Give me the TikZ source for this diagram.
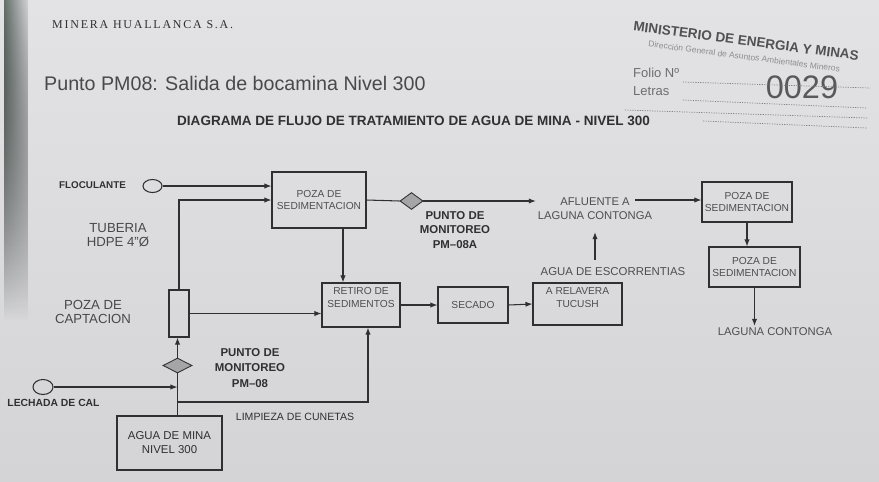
\documentclass[tikz,border=0pt]{standalone}
\usepackage{fontspec}
\setmainfont{Liberation Sans}
\newfontfamily\serifstamp{Liberation Serif}
\usetikzlibrary{positioning,shapes.geometric,arrows.meta,fadings}
\definecolor{paper}{RGB}{212,212,215}
\definecolor{paperlt}{RGB}{227,227,229}
\definecolor{ink}{RGB}{48,48,50}
\definecolor{boxink}{RGB}{78,78,80}
\definecolor{shadowgr}{RGB}{100,112,106}
\definecolor{diafill}{RGB}{165,165,168}
\definecolor{faint}{RGB}{110,110,112}
\tikzfading[name=fade down, top color=transparent!0, bottom color=transparent!100]
\tikzset{
  box/.style={draw=ink, line width=0.6pt, inner sep=1pt, text=boxink, align=center,
    font=\fontsize{5.8}{7}\selectfont},
  lbl/.style={text=ink, align=center, inner sep=1pt},
  arr/.style={draw=ink, line width=0.6pt, -{Latex[length=4pt,width=3pt]}},
  pipe/.style={draw=ink, line width=0.6pt},
  tank/.style={draw=ink, line width=0.6pt, ellipse, inner sep=0pt},
  monit/.style={draw=ink, line width=0.5pt, diamond, fill=diafill, inner sep=0pt},
  dotline/.style={draw=faint!80!paper, line width=0.4pt, dash pattern=on 0.7pt off 0.7pt}
}
\begin{document}
\begin{tikzpicture}[x=0.02cm,y=-0.02cm]
% hoja
\fill[top color=paperlt, bottom color=paper] (0,0) rectangle (879,481);
\fill[left color=shadowgr, right color=paper, path fading=fade down] (4,0) rectangle (28,320);
\useasboundingbox (0,0) rectangle (879,481);

% encabezado
\node[anchor=west, text=ink, font=\serifstamp\fontsize{6.8}{8}\selectfont\addfontfeature{LetterSpace=15}] (minera) at (46,25) {MINERA HUALLANCA S.A.};
\node[anchor=west, text=ink!85!paper, font=\fontsize{11.2}{13}\selectfont] (punto) at (38,83) {Punto PM08: Salida de bocamina Nivel 300};
\node[anchor=west, text=ink, font=\bfseries\fontsize{7.7}{9}\selectfont] (titulo) at (171,121) {DIAGRAMA DE FLUJO DE TRATAMIENTO DE AGUA DE MINA - NIVEL 300};

% sello
\node[anchor=north west, rotate=-7.5, inner sep=0pt, align=center, text=ink!80!paper, font=\bfseries\fontsize{7.7}{9}\selectfont] (minem) at (634,21)
  {MINISTERIO DE ENERGIA Y MINAS\\[-1pt]{\mdseries\color{faint!70!paper}\fontsize{4.8}{6}\selectfont Dirección General de Asuntos Ambientales Mineros}};
\node[anchor=west, text=faint, font=\fontsize{7.4}{9}\selectfont] (folio) at (627,73) {Folio Nº};
\node[anchor=west, text=faint, font=\fontsize{7.4}{9}\selectfont] (letras) at (627,91) {Letras};
\node[text=ink!75!paper, font=\fontsize{18.5}{22}\selectfont] (nfolio) at (802,87) {0029};
\draw[dotline] (683,82) -- (870,88);
\draw[dotline] (683,100) -- (867,108);
\draw[dotline] (625,110) -- (867,118);
\draw[dotline] (703,121) -- (867,128);

% equipos
\node[box, minimum width=1.88cm, minimum height=1.12cm] (poza1) at (319,200) {POZA DE\\SEDIMENTACION};
\node[box, minimum width=1.56cm, minimum height=0.88cm] (retiro) at (361,305) {};
\node[box, anchor=north, draw=none] (retiroT) at ([yshift=-0.06cm]retiro.north) {RETIRO DE\\SEDIMENTOS};
\node[box, minimum width=1.4cm, minimum height=0.72cm] (secado) at (473,305) {SECADO};
\node[box, minimum width=1.78cm, minimum height=0.84cm] (relav) at (577.5,304) {};
\node[box, anchor=north, draw=none] (relavT) at ([yshift=-0.06cm]relav.north) {A RELAVERA\\TUCUSH};
\node[box, minimum width=1.8cm, minimum height=0.8cm] (poza2) at (747,202) {POZA DE\\SEDIMENTACION};
\node[box, minimum width=1.82cm, minimum height=0.8cm] (poza3) at (754.5,267) {POZA DE\\SEDIMENTACION};
\node[box, text=ink, minimum width=2.1cm, minimum height=1.08cm, font=\fontsize{6.5}{8}\selectfont] (agua) at (169.5,443) {AGUA DE MINA\\NIVEL 300};
\node[box, minimum width=0.4cm, minimum height=0.94cm] (capt) at (179,313.5) {};

\node[tank, minimum width=0.38cm, minimum height=0.26cm] (floc) at (152.5,186) {};
\node[tank, minimum width=0.4cm, minimum height=0.3cm] (lech) at (43,387) {};
\node[monit, minimum width=0.46cm, minimum height=0.34cm] (dia1) at (411.5,201) {};
\node[monit, minimum width=0.58cm, minimum height=0.3cm] (dia2) at (177.5,365.5) {};

% textos
\node[lbl, font=\bfseries\fontsize{5.6}{7}\selectfont] (flocT) at (92.5,185) {FLOCULANTE};
\node[lbl, font=\bfseries\fontsize{5.9}{7}\selectfont] (lechT) at (53.5,403) {LECHADA DE CAL};
\node[lbl, text=ink!85!paper, font=\fontsize{7.5}{8}\selectfont] (tub) at (118,235) {TUBERIA\\HDPE 4"Ø};
\node[lbl, text=ink!85!paper, font=\fontsize{7.5}{8}\selectfont] (captT) at (93,312) {POZA DE\\CAPTACION};
\node[lbl, font=\bfseries\fontsize{6.5}{8.5}\selectfont] (pm08a) at (455,230) {PUNTO DE\\MONITOREO\\PM--08A};
\node[lbl, font=\bfseries\fontsize{6.5}{8.7}\selectfont] (pm08) at (250,368) {PUNTO DE\\MONITOREO\\PM--08};
\node[lbl, text=boxink, font=\fontsize{6.4}{8}\selectfont] (afl) at (595,209) {AFLUENTE A\\LAGUNA CONTONGA};
\node[lbl, text=boxink, font=\fontsize{6.5}{8}\selectfont] (esc) at (613,272) {AGUA DE ESCORRENTIAS};
\node[lbl, text=boxink, font=\fontsize{6.4}{8}\selectfont] (laguna) at (775,332) {LAGUNA CONTONGA};
\node[lbl, font=\fontsize{6}{8}\selectfont] (limpT) at (295,417) {LIMPIEZA DE CUNETAS};
\coordinate (aflout) at (635,200);
\coordinate (limp) at (177.5,402);

% conexiones
\draw[arr] (floc) -- (floc -| poza1.west);
\draw[arr] (capt.north) |- (poza1.west);
\draw[pipe] (poza1.east) -- (dia1.west);
\draw[arr] (dia1.east) -- (dia1.east -| afl.west);
\draw[arr] (aflout) -- (aflout -| poza2.west);
\draw[arr] (poza2.south) -- (poza2.south |- poza3.north);
\draw[arr] (poza3.south) -- (poza3.south |- laguna.north);
\draw[arr] ([xshift=0.48cm]poza1.south) -- ([xshift=0.48cm]poza1.south |- retiro.north);
\draw[arr] (capt.east) -- (capt.east -| retiro.west);
\draw[arr] (retiro.east) -- (secado.west);
\draw[arr] (secado.east) -- (relav.west);
\draw[arr] ([yshift=0.12cm]esc.north -| afl.south) -- ([yshift=-0.2cm]afl.south);
\draw[pipe] (dia2.south) -- (dia2.south |- agua.north);
\draw[arr] (dia2.north) -- (dia2.north |- capt.south);
\draw[arr] (lech) -- (lech -| dia2);
\draw[arr] (limp) -| ([xshift=0.14cm]retiro.south);
\end{tikzpicture}
\end{document}
